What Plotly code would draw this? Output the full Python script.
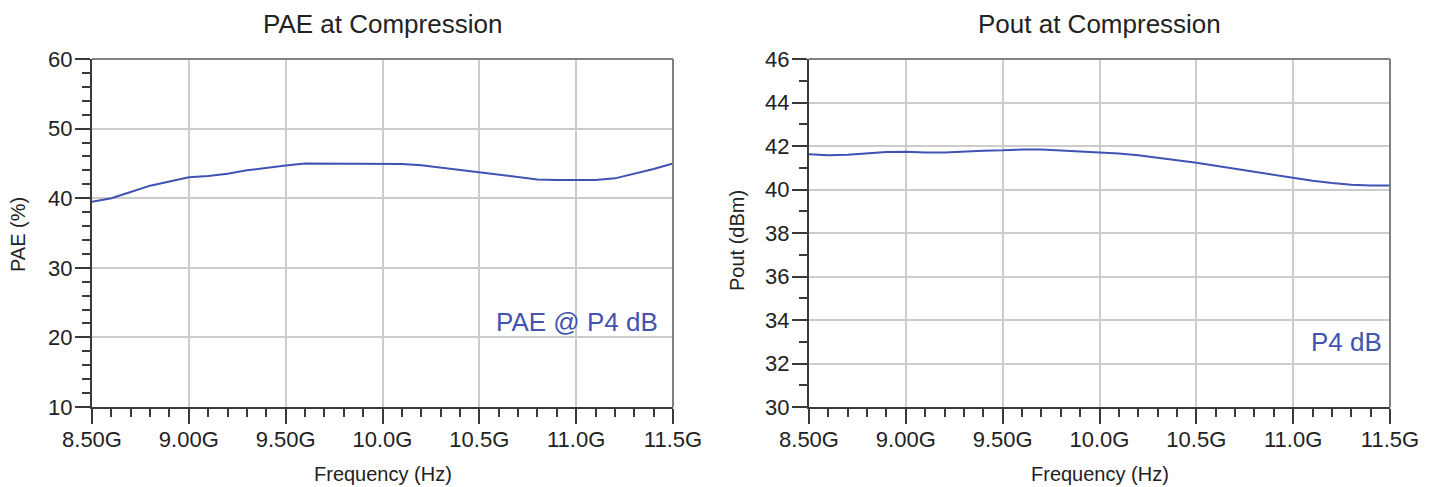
import plotly.graph_objects as go

freq_ghz = [8.5, 8.6, 8.7, 8.8, 8.9, 9.0, 9.1, 9.2, 9.3, 9.4, 9.5, 9.6, 9.7, 9.8, 9.9, 10.0,
            10.1, 10.2, 10.3, 10.4, 10.5, 10.6, 10.7, 10.8, 10.9, 11.0, 11.1, 11.2, 11.3, 11.4, 11.5]
pae_pct = [39.5, 40.0, 40.9, 41.8, 42.4, 43.0, 43.2, 43.5, 44.0, 44.4, 44.7, 45.0, 45.0, 45.0, 45.0, 45.0,
           44.9, 44.75, 44.4, 44.05, 43.7, 43.3, 42.95, 42.7, 42.6, 42.55, 42.6, 42.85, 43.5, 44.2, 45.0]
pout_dbm = [41.62, 41.57, 41.60, 41.67, 41.72, 41.74, 41.70, 41.70, 41.75, 41.78, 41.80, 41.84, 41.84, 41.80, 41.76, 41.71,
            41.65, 41.57, 41.46, 41.35, 41.23, 41.09, 40.95, 40.81, 40.66, 40.52, 40.40, 40.30, 40.22, 40.18, 40.18]

x_tickvals = [8.5, 9.0, 9.5, 10.0, 10.5, 11.0, 11.5]
x_ticktext = ["8.50G", "9.00G", "9.50G", "10.0G", "10.5G", "11.0G", "11.5G"]
titles = ["PAE at Compression", "Pout at Compression"]
y_titles = ["PAE (%)", "Pout (dBm)"]
x_title = "Frequency (Hz)"
labels = ["PAE @ P4 dB", "P4 dB"]

W, H = 1434, 487
FONT = "Liberation Sans, Arial, sans-serif"
LINE = "#4052b2"
GRID = "#cccccc"
AX = "#3a3a3a"

def px(xp):
    return xp / W

def py(yp):
    return 1 - yp / H

top, bottom = 59, 407
xd1 = [px(92), px(673)]
xd2 = [px(809), px(1390)]
yd = [py(bottom), py(top)]

fig = go.Figure()
fig.add_trace(go.Scatter(x=freq_ghz, y=pae_pct, mode="lines", line=dict(color=LINE, width=2),
                         xaxis="x", yaxis="y", showlegend=False))
fig.add_trace(go.Scatter(x=freq_ghz, y=pout_dbm, mode="lines", line=dict(color=LINE, width=2),
                         xaxis="x2", yaxis="y2", showlegend=False))

def xaxis(domain, anchor):
    return dict(domain=domain, anchor=anchor, range=[8.5, 11.5], tickvals=x_tickvals, ticktext=x_ticktext,
                showgrid=True, gridcolor=GRID, gridwidth=1.5, zeroline=False, automargin=False,
                showline=True, linecolor=AX, linewidth=2,
                ticks="outside", ticklen=15, tickwidth=1.5, tickcolor=AX, ticklabelstandoff=-3,
                minor=dict(dtick=0.1, tick0=8.5, ticks="outside", ticklen=8, tickwidth=1.5, tickcolor=AX, showgrid=False),
                tickfont=dict(family=FONT, size=22, color="#222222"), fixedrange=True)

def yaxis(domain, anchor, rng, dtick, mdtick):
    return dict(domain=domain, anchor=anchor, range=rng, dtick=dtick, tick0=rng[0],
                showgrid=True, gridcolor=GRID, gridwidth=1.5, zeroline=False, automargin=False,
                showline=True, linecolor=AX, linewidth=2,
                ticks="outside", ticklen=15, tickwidth=1.5, tickcolor=AX, ticklabelstandoff=-2,
                minor=dict(dtick=mdtick, tick0=rng[0], ticks="outside", ticklen=8, tickwidth=1.5, tickcolor=AX, showgrid=False),
                tickfont=dict(family=FONT, size=22, color="#222222"), fixedrange=True)

shapes = []
for xd in (xd1, xd2):
    # gray top and right borders of each plot area
    shapes.append(dict(type="line", xref="paper", yref="paper", x0=xd[0], x1=xd[1], y0=yd[1], y1=yd[1],
                       line=dict(color="#808080", width=2), layer="above"))
    shapes.append(dict(type="line", xref="paper", yref="paper", x0=xd[1], x1=xd[1], y0=yd[0], y1=yd[1],
                       line=dict(color="#808080", width=2), layer="above"))

ann = []
for xd, t in zip((xd1, xd2), titles):
    cx = (xd[0] + xd[1]) / 2
    ann.append(dict(text=t, x=cx, y=py(24), xref="paper", yref="paper", showarrow=False,
                    xanchor="center", yanchor="middle", font=dict(family=FONT, size=26, color="#222222")))
    ann.append(dict(text=x_title, x=cx, y=0, xref="paper", yref="paper", showarrow=False,
                    xanchor="center", yanchor="bottom", font=dict(family=FONT, size=20, color="#222222")))
ann.append(dict(text=y_titles[0], x=px(18), y=py(235), xref="paper", yref="paper", showarrow=False,
                textangle=-90, xanchor="center", yanchor="middle", font=dict(family=FONT, size=20, color="#222222")))
ann.append(dict(text=y_titles[1], x=px(737), y=py(241), xref="paper", yref="paper", showarrow=False,
                textangle=-90, xanchor="center", yanchor="middle", font=dict(family=FONT, size=20, color="#222222")))
ann.append(dict(text=labels[0], x=px(660), y=py(322), xref="paper", yref="paper", showarrow=False,
                xanchor="right", yanchor="middle", font=dict(family=FONT, size=26, color="#4253b0")))
ann.append(dict(text=labels[1], x=px(1384), y=py(342), xref="paper", yref="paper", showarrow=False,
                xanchor="right", yanchor="middle", font=dict(family=FONT, size=26, color="#4253b0")))

fig.update_layout(
    width=W, height=H, margin=dict(l=0, r=0, t=0, b=0, autoexpand=False),
    paper_bgcolor="white", plot_bgcolor="white",
    xaxis=xaxis(xd1, "y"), yaxis=yaxis(yd, "x", [10, 60], 10, 2),
    xaxis2=xaxis(xd2, "y2"), yaxis2=yaxis(yd, "x2", [30, 46], 2, 1),
    shapes=shapes, annotations=ann,
)

fig.write_html("out.html")
